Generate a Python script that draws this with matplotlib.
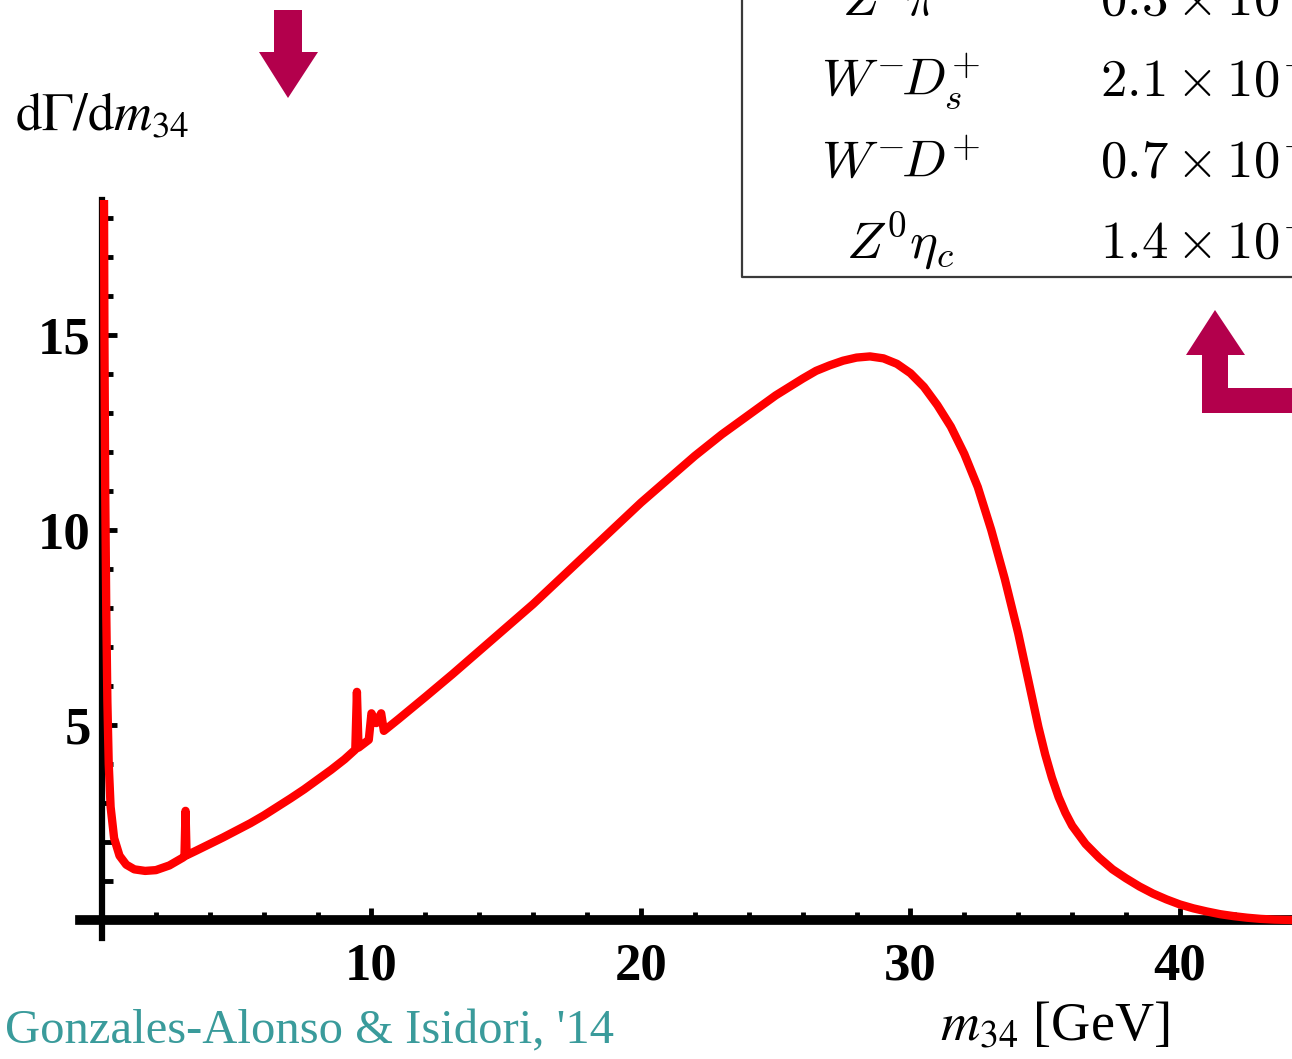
import matplotlib
matplotlib.use("Agg")
import matplotlib.pyplot as plt
import matplotlib.patches as mpatches
import matplotlib.lines as mlines

# dGamma/dm34 (m34 in GeV)
m34 = [0.06, 0.09, 0.12, 0.16, 0.20, 0.25, 0.32, 0.45, 0.65, 0.90, 1.2, 1.6,
       2.0, 2.5, 3.0, 3.06, 3.10, 3.14, 3.5, 4.0, 4.5, 5.0, 5.5, 6.0, 6.5,
       7.0, 7.5, 8.0, 8.5, 9.0, 9.40, 9.46, 9.52, 9.90, 10.0, 10.18, 10.36,
       10.46, 11.0, 12.0, 13.0, 14.0, 15.0, 16.0, 17.0, 18.0, 19.0, 20.0,
       21.0, 22.0, 23.0, 24.0, 25.0, 26.0, 26.5, 27.0, 27.5, 28.0, 28.5,
       29.0, 29.5, 30.0, 30.5, 31.0, 31.5, 32.0, 32.5, 33.0, 33.5, 34.0,
       34.25, 34.5, 34.75, 35.0, 35.25, 35.5, 35.75, 36.0, 36.5, 37.0, 37.5,
       38.0, 38.5, 39.0, 39.5, 40.0, 40.5, 41.0, 41.5, 42.0, 42.5, 43.0,
       43.5, 44.2]
rate = [22.0, 15.0, 11.0, 7.8, 5.6, 4.0, 2.9, 2.1, 1.65, 1.42, 1.30, 1.26,
        1.28, 1.40, 1.60, 1.63, 2.80, 1.66, 1.78, 1.95, 2.12, 2.30, 2.48,
        2.68, 2.90, 3.12, 3.35, 3.60, 3.85, 4.12, 4.37, 5.85, 4.42, 4.62,
        5.30, 5.05, 5.30, 4.85, 5.15, 5.72, 6.30, 6.90, 7.50, 8.10, 8.75,
        9.40, 10.05, 10.70, 11.30, 11.90, 12.45, 12.95, 13.45, 13.88, 14.08,
        14.22, 14.34, 14.42, 14.45, 14.40, 14.26, 14.02, 13.67, 13.20, 12.65,
        11.95, 11.10, 10.00, 8.75, 7.35, 6.55, 5.75, 4.95, 4.25, 3.65, 3.15,
        2.75, 2.42, 1.95, 1.60, 1.30, 1.07, 0.86, 0.68, 0.53, 0.40, 0.30,
        0.22, 0.15, 0.10, 0.06, 0.03, 0.012, 0.0]

x_major = [10, 20, 30, 40]
x_minor = [2, 4, 6, 8, 12, 14, 16, 18, 22, 24, 26, 28, 32, 34, 36, 38, 42]
y_major = [5, 10, 15]
y_minor = [1, 2, 3, 4, 6, 7, 8, 9, 11, 12, 13, 14, 16, 17, 18]

# branching-ratio table (top right, cut by the slide edge)
channels = [r"$Z^0\pi^0$", r"$W^{-}\!D_s^{+}$", r"$W^{-}\!D^{+}$",
            r"$Z^0\eta_c$"]
br_values = [r"$0.3\times10^{-10}$", r"$2.1\times10^{-10}$",
             r"$0.7\times10^{-10}$", r"$1.4\times10^{-10}$"]

W, H = 1292, 1059
ARROW = "#b3004c"
SERIF = "Liberation Serif"

fig = plt.figure(figsize=(W / 100, H / 100), dpi=100)

ax = fig.add_axes([80 / W, (H - 938) / H, 1212 / W, 738 / H])
ax.patch.set_visible(False)
ax.set_xlim(-0.816, 44.16)
ax.set_ylim(-0.46, 18.46)
ax.plot(m34, rate, color="#ff0000", lw=6, solid_joinstyle="round",
        solid_capstyle="round", zorder=3)

for side in ("top", "right"):
    ax.spines[side].set_visible(False)
ax.spines["left"].set_position(("data", 0))
ax.spines["bottom"].set_position(("data", 0))
ax.spines["bottom"].set_linewidth(7)
ax.spines["left"].set_linewidth(4.5)

ax.set_xticks(x_major)
ax.set_xticks(x_minor, minor=True)
ax.set_yticks(y_major)
ax.set_yticks(y_minor, minor=True)
ax.tick_params(which="both", direction="in", width=3.5, color="black")
ax.tick_params(axis="x", which="major", length=9, pad=16, labelsize=38)
ax.tick_params(axis="x", which="minor", length=6)
ax.tick_params(axis="y", which="major", length=11, pad=8, labelsize=38)
ax.tick_params(axis="y", which="minor", length=8)
for lab in ax.get_xticklabels() + ax.get_yticklabels():
    lab.set_fontfamily(SERIF)
    lab.set_fontweight("bold")

# ── overlay in pixel coordinates: labels, table, arrows ─────────────────────
ov = fig.add_axes([0, 0, 1, 1], zorder=5)
ov.set_xlim(0, W)
ov.set_ylim(H, 0)
ov.axis("off")
ov.patch.set_alpha(0)

ov.text(15, 130, r"$\mathrm{d}\Gamma/\mathrm{d}m_{34}$", ha="left",
        va="baseline", fontsize=38, math_fontfamily="stix")
ov.text(940, 1040, r"$m_{34}$ [GeV]", ha="left", va="baseline",
        fontsize=39, family=SERIF, math_fontfamily="stix")
ov.text(5, 1043, "Gonzales-Alonso & Isidori, '14", ha="left", va="baseline",
        fontsize=35, family=SERIF, color="#3a9b9b")

ov.add_line(mlines.Line2D([742, 742, 1300], [-5, 277, 277], color="#3a3a3a",
                          lw=1.6))
for i, (ch, val) in enumerate(zip(channels, br_values)):
    yb = 15 + 81 * i
    ov.text(900, yb, ch, ha="center", va="baseline", fontsize=38,
            math_fontfamily="cm")
    ov.text(1100, yb, val, ha="left", va="baseline", fontsize=38,
            math_fontfamily="cm")

ov.add_patch(mpatches.Polygon(
    [(274, 10), (302, 10), (302, 52), (318, 52), (288, 98), (259, 52),
     (274, 52)], closed=True, facecolor=ARROW, edgecolor="none"))
ov.add_patch(mpatches.Polygon(
    [(1215, 310), (1245, 355), (1228, 355), (1228, 388), (1300, 388),
     (1300, 413), (1202, 413), (1202, 355), (1186, 355)], closed=True,
    facecolor=ARROW, edgecolor="none"))

fig.savefig("out.png", dpi=100)
